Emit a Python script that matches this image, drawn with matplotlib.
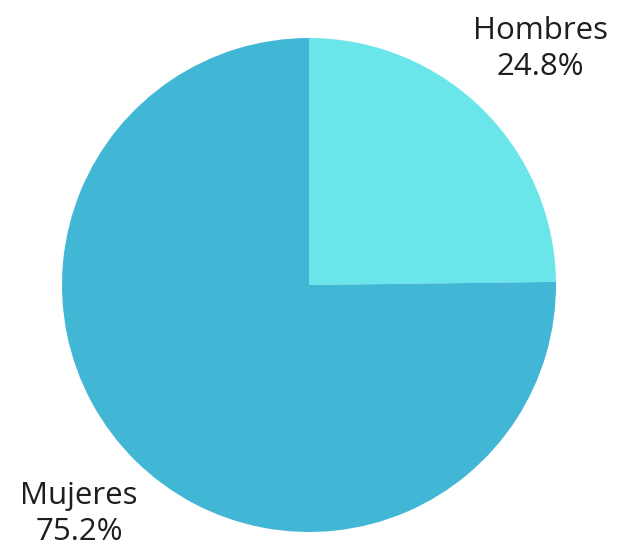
import matplotlib.pyplot as plt

# Data
labels = ['Hombres', 'Mujeres']
values = [24.8, 75.2]
colors = ['#6AE6EA', '#42B7D5']

plt.rcParams['font.family'] = ['Open Sans', 'DejaVu Sans']

fig = plt.figure(figsize=(6.32, 5.49), dpi=100)
ax = fig.add_axes([0, 0, 1, 1])

ax.pie(values, colors=colors, startangle=90, counterclock=False,
       center=(309, 264), radius=247, frame=True,
       wedgeprops={'linewidth': 0})
ax.set_aspect('equal')
ax.axis('off')
ax.set_xlim(0, 632)
ax.set_ylim(0, 549)

# label positions (pixels, y from bottom)
label_pos = [(540, 500), (79, 35)]
for lab, val, (x, y) in zip(labels, values, label_pos):
    ax.text(x, y, f'{lab}\n{val:.1f}%', ha='center', va='center',
            fontsize=22.5, color='#1e1e1e', linespacing=1.3)

fig.savefig('out.png', dpi=100)
